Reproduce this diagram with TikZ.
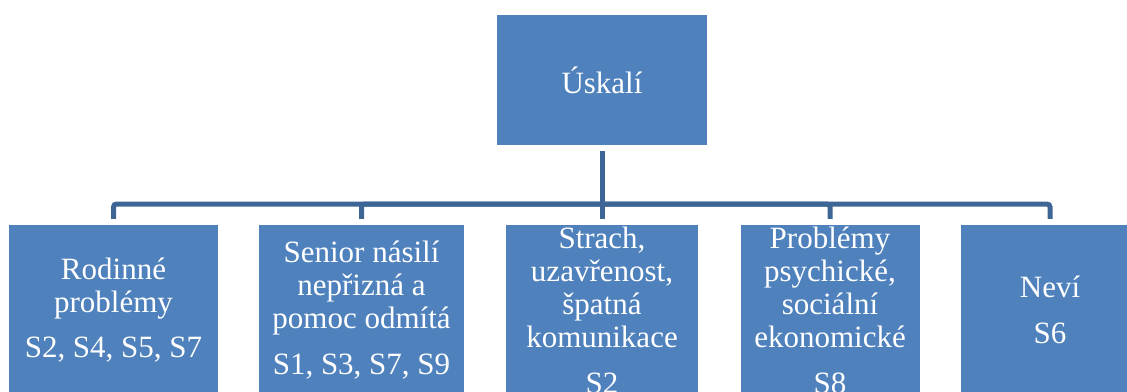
\documentclass[tikz,border=0pt]{standalone}
\usepackage{fontspec}
\setmainfont{Liberation Serif}
\definecolor{boxblue}{RGB}{79,129,189}
\definecolor{linkblue}{RGB}{61,101,150}
\def\Uskali{Úskalí}
\def\Rodina{Rodinné\\problémy\\[12pt]S2, S4, S5, S7}
\def\Senior{Senior násilí\\nepřizná a\\pomoc odmítá\\[13pt]S1, S3, S7, S9}
\def\Strach{Strach,\\uzavřenost,\\špatná\\komunikace\\[13pt]S2}
\def\Problemy{Problémy\\psychické,\\sociální\\ekonomické\\[13pt]S8}
\def\Nevi{Neví\\[13pt]S6}
\newcommand{\branch}[2]{\draw[link] (#1) -| (#2.north)}

\begin{document}
\begin{tikzpicture}[x=1pt, y=-1pt,
                    box/.style={
                        fill=boxblue,
                        text=white,
                        align=center,
                        inner sep=0pt,
                        font=\fontsize{31}{33}\selectfont,
                        minimum height=170pt
                    },
                    link/.style={
                        draw=linkblue,
                        line width=5pt,
                        rounded corners=3pt,
                        shorten >=6pt
                    }]
    \useasboundingbox (0,0) rectangle (1127,391);
    \clip (0,0) rectangle (1127,391);

    \node[box, minimum width=210pt, minimum height=130pt] (top) at (602,80) {\Uskali};

    \node[box, minimum width=209pt] (rodina) at (113.5,310) {\Rodina};
    \node[box, minimum width=205pt] (senior) at (361.5,310) {\Senior};
    \node[box, minimum width=192pt] (strach) at (602,310) {\Strach};
    \node[box, minimum width=179pt] (problemy) at (830,310) {\Problemy};
    \node[box, minimum width=178pt] (nevi) at (1050,310) {\Nevi};

    \coordinate (bus) at (602,204);

    \draw[link, shorten <=6pt] (top) -- (strach);
    \branch{bus}{rodina};
    \branch{bus}{senior};
    \branch{bus}{problemy};
    \branch{bus}{nevi};
\end{tikzpicture}
\end{document}
